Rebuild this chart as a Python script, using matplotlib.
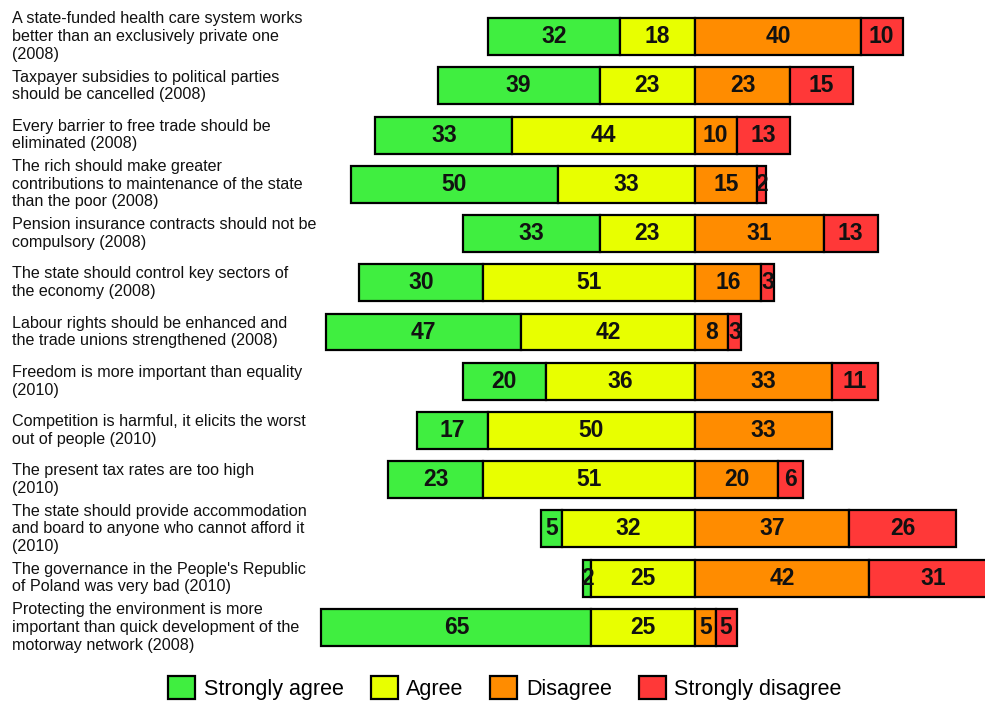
import matplotlib
matplotlib.use("Agg")
import matplotlib.pyplot as plt
from matplotlib.patches import Patch
from matplotlib.transforms import blended_transform_factory

statements = [
    "A state-funded health care system works\nbetter than an exclusively private one\n(2008)",
    "Taxpayer subsidies to political parties\nshould be cancelled (2008)",
    "Every barrier to free trade should be\neliminated (2008)",
    "The rich should make greater\ncontributions to maintenance of the state\nthan the poor (2008)",
    "Pension insurance contracts should not be\ncompulsory (2008)",
    "The state should control key sectors of\nthe economy (2008)",
    "Labour rights should be enhanced and\nthe trade unions strengthened (2008)",
    "Freedom is more important than equality\n(2010)",
    "Competition is harmful, it elicits the worst\nout of people (2010)",
    "The present tax rates are too high\n(2010)",
    "The state should provide accommodation\nand board to anyone who cannot afford it\n(2010)",
    "The governance in the People's Republic\nof Poland was very bad (2010)",
    "Protecting the environment is more\nimportant than quick development of the\nmotorway network (2008)",
]
strongly_agree = [32, 39, 33, 50, 33, 30, 47, 20, 17, 23, 5, 2, 65]
agree = [18, 23, 44, 33, 23, 51, 42, 36, 50, 51, 32, 25, 25]
disagree = [40, 23, 10, 15, 31, 16, 8, 33, 33, 20, 37, 42, 5]
strongly_disagree = [10, 15, 13, 2, 13, 3, 3, 11, 0, 6, 26, 31, 5]
categories = ["Strongly agree", "Agree", "Disagree", "Strongly disagree"]
colors = ["#40EE40", "#E8FF00", "#FF8C00", "#FF3838"]

plt.rcParams['font.family'] = ['Liberation Sans', 'DejaVu Sans']

W, H = 985, 702
fig = plt.figure(figsize=(W / 100, H / 100), dpi=100)
ax_l, ax_r, ax_t, ax_b = 310, 985, 12, 652
ax = fig.add_axes([ax_l / W, 1 - ax_b / H, (ax_r - ax_l) / W, (ax_b - ax_t) / H])
scale = 4.15
center = 695
ax.set_xlim(-(center - ax_l) / scale, (ax_r - center) / scale)
n = len(statements)
ax.set_ylim(n - 0.5, -0.5)
ax.axis("off")

ys = list(range(n))
for i in ys:
    sa, a, d, sd = strongly_agree[i], agree[i], disagree[i], strongly_disagree[i]
    segs = [(-(sa + a), sa), (-a, a), (0, d), (d, sd)]
    for (left, w), c in zip(segs, colors):
        if w == 0:
            continue
        ax.barh(i, w, left=left, height=0.75, color=c, edgecolor="black", linewidth=1.6)
        ax.text(left + w / 2, i, str(w), ha="center", va="center",
                fontsize=16.5, fontweight="bold", color="#111111")

trans = blended_transform_factory(fig.transFigure, ax.transData)
for i, s in enumerate(statements):
    ax.text(12 / W, i, s, transform=trans, ha="left", va="center",
            fontsize=11.6, linespacing=1.22, color="#111111")

handles = [Patch(facecolor=c, edgecolor="black", linewidth=1.6, label=l)
           for c, l in zip(colors, categories)]
fig.legend(handles=handles, loc="center", bbox_to_anchor=(505 / W, 1 - 688 / H),
           ncol=4, frameon=False, fontsize=15.5, handlelength=1.25, handleheight=1.25,
           handletextpad=0.4, columnspacing=1.25)

fig.savefig("out.png", dpi=100)
